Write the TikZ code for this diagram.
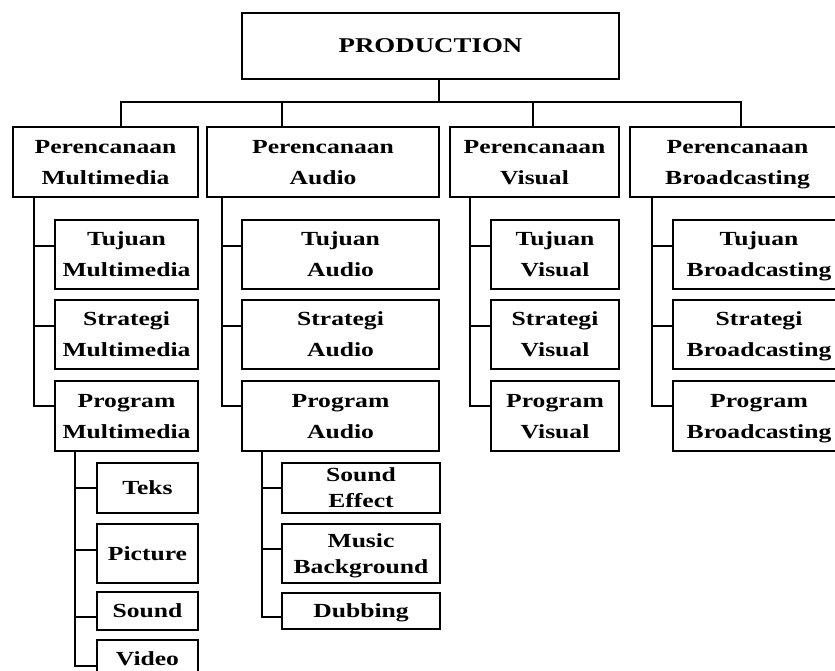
\documentclass[tikz,border=0pt]{standalone}
\usepackage{fontspec}
\newfontfamily\lblfont{Liberation Serif}[FakeStretch=1.28]
\begin{document}
\begin{tikzpicture}[x=1pt,y=-1pt,
  box/.style={draw=black,line width=1.3pt,inner sep=0pt,align=center,text depth=0pt,
    font={\lblfont\bfseries\fontsize{20}{31}\selectfont}},
  smallbox/.style={box,font={\lblfont\bfseries\fontsize{20}{26}\selectfont}},
  link/.style={draw=black,line width=1.4pt}]
\useasboundingbox (0,0) rectangle (835,671);
\clip (0,0) rectangle (835,671);
% root
\node[box,minimum width=377pt,minimum height=66pt,font={\lblfont\bfseries\fontsize{21}{31}\selectfont}] (prod) at (430.5,46) {PRODUCTION};
% level 1
\node[box,minimum width=185pt,minimum height=70pt] (pm) at (105.5,162) {Perencanaan\\Multimedia};
\node[box,minimum width=232pt,minimum height=70pt] (pa) at (323,162) {Perencanaan\\Audio};
\node[box,minimum width=169pt,minimum height=70pt] (pv) at (534.5,162) {Perencanaan\\Visual};
\node[box,minimum width=215pt,minimum height=70pt] (pb) at (737.5,162) {Perencanaan\\Broadcasting};
% level 2 multimedia
\node[box,minimum width=143pt,minimum height=69pt] (m1) at (126.5,254.5) {Tujuan\\Multimedia};
\node[box,minimum width=143pt,minimum height=69pt] (m2) at (126.5,334.5) {Strategi\\Multimedia};
\node[box,minimum width=143pt,minimum height=70pt] (m3) at (126.5,416) {Program\\Multimedia};
% level 2 audio
\node[box,minimum width=197pt,minimum height=69pt] (a1) at (340.5,254.5) {Tujuan\\Audio};
\node[box,minimum width=197pt,minimum height=69pt] (a2) at (340.5,334.5) {Strategi\\Audio};
\node[box,minimum width=197pt,minimum height=70pt] (a3) at (340.5,416) {Program\\Audio};
% level 2 visual
\node[box,minimum width=128pt,minimum height=69pt] (v1) at (555,254.5) {Tujuan\\Visual};
\node[box,minimum width=128pt,minimum height=69pt] (v2) at (555,334.5) {Strategi\\Visual};
\node[box,minimum width=128pt,minimum height=70pt] (v3) at (555,416) {Program\\Visual};
% level 2 broadcasting
\node[box,minimum width=172pt,minimum height=69pt] (b1) at (759,254.5) {Tujuan\\Broadcasting};
\node[box,minimum width=172pt,minimum height=69pt] (b2) at (759,334.5) {Strategi\\Broadcasting};
\node[box,minimum width=172pt,minimum height=70pt] (b3) at (759,416) {Program\\Broadcasting};
% level 3 multimedia
\node[smallbox,minimum width=101pt,minimum height=50pt] (mt) at (147.5,488) {Teks};
\node[smallbox,minimum width=101pt,minimum height=59pt] (mp) at (147.5,553.5) {Picture};
\node[smallbox,minimum width=101pt,minimum height=38pt] (ms) at (147.5,611) {Sound};
\node[smallbox,minimum width=101pt,minimum height=38pt] (mv) at (147.5,659) {Video};
% level 3 audio
\node[smallbox,minimum width=158pt,minimum height=50pt] (ae) at (361,488) {Sound\\Effect};
\node[smallbox,minimum width=158pt,minimum height=59pt] (ab) at (361,553.5) {Music\\Background};
\node[smallbox,minimum width=158pt,minimum height=36pt] (ad) at (361,611) {Dubbing};
% bus coordinates
\coordinate (pc) at (439,102);
\coordinate (d1) at (121,102);
\coordinate (d2) at (282,102);
\coordinate (d3) at (533,102);
\coordinate (d4) at (741,102);
\coordinate (tM) at (34,197);
\coordinate (tA) at (222,197);
\coordinate (tV) at (470,197);
\coordinate (tB) at (652,197);
\coordinate (tM3) at (75,451);
\coordinate (tA3) at (262,451);
% root connectors
\draw[link] (prod.south -| pc) -- (pc);
\draw[link] (d1 |- pm.north) -- (d1) -- (d4) -- (d4 |- pb.north);
\draw[link] (d2) -- (d2 |- pa.north);
\draw[link] (d3) -- (d3 |- pv.north);
% level 2 connectors
\draw[link] (tM) |- ([yshift=8.5pt]m1.west);
\draw[link] (tM) |- ([yshift=8.5pt]m2.west);
\draw[link] (tM) |- ([yshift=10pt]m3.west);
\draw[link] (tA) |- ([yshift=8.5pt]a1.west);
\draw[link] (tA) |- ([yshift=8.5pt]a2.west);
\draw[link] (tA) |- ([yshift=10pt]a3.west);
\draw[link] (tV) |- ([yshift=8.5pt]v1.west);
\draw[link] (tV) |- ([yshift=8.5pt]v2.west);
\draw[link] (tV) |- ([yshift=10pt]v3.west);
\draw[link] (tB) |- ([yshift=8.5pt]b1.west);
\draw[link] (tB) |- ([yshift=8.5pt]b2.west);
\draw[link] (tB) |- ([yshift=10pt]b3.west);
% level 3 connectors
\draw[link] (tM3) |- (mt.west);
\draw[link] (tM3) |- ([yshift=3.5pt]mp.west);
\draw[link] (tM3) |- ([yshift=-6pt]ms.west);
\draw[link] (tM3) |- ([yshift=-7pt]mv.west);
\draw[link] (tA3) |- (ae.west);
\draw[link] (tA3) |- ([yshift=4.5pt]ab.west);
\draw[link] (tA3) |- ([yshift=-6pt]ad.west);
\end{tikzpicture}
\end{document}
